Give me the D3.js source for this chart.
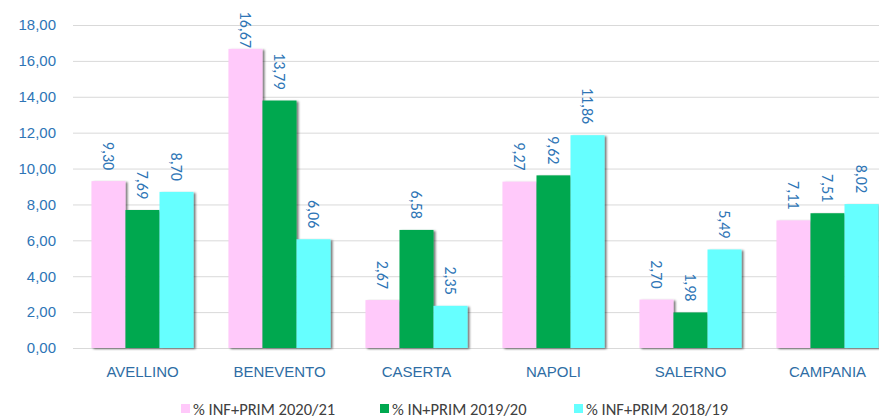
<!DOCTYPE html>
<html>
<head>
<meta charset="utf-8">
<script src="https://cdn.jsdelivr.net/npm/d3@7"></script>
<style>
  body { margin: 0; background: #fff; }
  svg { display: block; font-family: Carlito, Calibri, Lato, sans-serif; }
</style>
</head>
<body>
<div id="container"></div>
<script>
// Chart dimensions
const width = 879;
const height = 420;

// Data
const provinces = ["AVELLINO", "BENEVENTO", "CASERTA", "NAPOLI", "SALERNO", "CAMPANIA"];
const seriesNames = ["% INF+PRIM 2020/21", "% IN+PRIM 2019/20", "% INF+PRIM 2018/19"];
const values2021 = [9.30, 16.67, 2.67, 9.27, 2.70, 7.11];
const values1920 = [7.69, 13.79, 6.58, 9.62, 1.98, 7.51];
const values1819 = [8.70, 6.06, 2.35, 11.86, 5.49, 8.02];
const yTicks = [0, 2, 4, 6, 8, 10, 12, 14, 16, 18];

const colors = ["#ffc9fa", "#00a84f", "#66ffff"];
const seriesValues = [values2021, values1920, values1819];

const fmt = v => v.toFixed(2).replace(".", ",");

// Scales
const x0 = d3.scaleBand()
    .domain(provinces)
    .range([74, 896])
    .paddingInner(0.255)
    .paddingOuter(0.1275);

const x1 = d3.scaleBand()
    .domain(d3.range(seriesNames.length))
    .range([0, x0.bandwidth()]);

const y = d3.scaleLinear()
    .domain([0, 18])
    .range([348, 25]);

const svg = d3.select("#container").append("svg")
    .attr("width", width)
    .attr("height", height)
    .attr("viewBox", [0, 0, width, height]);

// soft shadow for the bars
const defs = svg.append("defs");
const filter = defs.append("filter").attr("id", "shadow")
    .attr("x", "-20%").attr("y", "-5%").attr("width", "150%").attr("height", "115%");
filter.append("feDropShadow")
    .attr("dx", 2).attr("dy", 1).attr("stdDeviation", 1)
    .attr("flood-color", "#000").attr("flood-opacity", 0.55);

// Grid lines + y labels
svg.append("g")
    .attr("transform", "translate(73,0)")
    .call(d3.axisLeft(y).tickValues(yTicks).tickSize(0).tickPadding(17).tickFormat(fmt))
    .call(g => g.select(".domain").remove())
    .call(g => g.selectAll(".tick text")
        .attr("fill", "#2e75b6")
        .style("font-size", "15px"))
    .call(g => g.selectAll(".tick line").clone()
        .attr("x2", width - 73)
        .attr("stroke", "#d9d9d9")
        .attr("stroke-width", 1));

// Bars
const groups = svg.append("g")
    .selectAll("g")
    .data(provinces)
    .join("g")
    .attr("transform", d => `translate(${x0(d)},0)`);

groups.selectAll("rect")
    .data((d, i) => seriesValues.map((s, k) => ({ k, v: s[i] })))
    .join("rect")
    .attr("x", d => x1(d.k))
    .attr("y", d => y(d.v))
    .attr("width", x1.bandwidth())
    .attr("height", d => y(0) - y(d.v))
    .attr("fill", d => colors[d.k])
    .attr("filter", "url(#shadow)");

// Value labels (rotated, reading top to bottom), kept inside the top edge
groups.selectAll("text")
    .data((d, i) => seriesValues.map((s, k) => ({ k, v: s[i] })))
    .join("text")
    .attr("transform", d => `translate(${x1(d.k) + x1.bandwidth() / 2},${Math.max(y(d.v) - 11, 48)}) rotate(90)`)
    .attr("text-anchor", "end")
    .attr("dy", "0.35em")
    .attr("fill", "#2e75b6")
    .style("font-size", "16px")
    .text(d => fmt(d.v));

// Category axis
svg.append("g")
    .attr("transform", `translate(0,${y(0)})`)
    .call(d3.axisBottom(x0).tickSize(0).tickPadding(18))
    .call(g => g.select(".domain").remove())
    .call(g => g.selectAll(".tick text")
        .attr("fill", "#2e6da4")
        .style("font-size", "15px"));

// Legend
const legendX = [181, 380, 574];
const legend = svg.append("g").attr("transform", "translate(0,409)");
seriesNames.forEach((name, i) => {
    const row = legend.append("g").attr("transform", `translate(${legendX[i]},0)`);
    row.append("rect")
        .attr("x", 0)
        .attr("y", -5)
        .attr("width", 9)
        .attr("height", 9)
        .attr("fill", colors[i]);
    row.append("text")
        .attr("x", 12)
        .attr("y", 0)
        .attr("dy", "0.35em")
        .attr("fill", "#404040")
        .style("font-size", "16.5px")
        .text(name);
});
</script>
</body>
</html>
